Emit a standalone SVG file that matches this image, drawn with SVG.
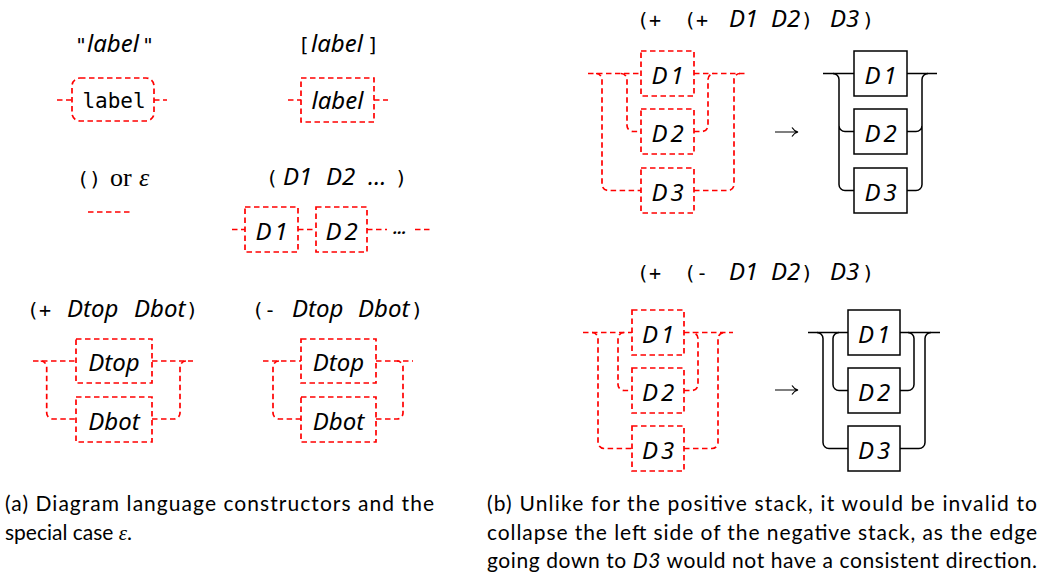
<svg xmlns="http://www.w3.org/2000/svg" width="1048" height="582" viewBox="0 0 1048 582">
<style>
.r{fill:none;stroke:#ff0000;stroke-width:1.7;stroke-dasharray:5.5 3.5}
.k{fill:none;stroke:#000;stroke-width:1.5}
.it{font-family:"Noto Sans",sans-serif;font-style:italic;font-size:24px;fill:#000}
.dn{letter-spacing:3px}
.mo{font-family:"DejaVu Sans Mono",monospace;font-size:20px;fill:#000}
.se{font-family:"Liberation Serif",serif;font-size:26px;fill:#000}
.sei{font-family:"Liberation Serif",serif;font-style:italic;font-size:26px;fill:#000}
.cap{font-family:Lato,sans-serif;font-size:21px;fill:#000}
.c{text-anchor:middle}
</style>
<rect width="1048" height="582" fill="#fff"/>

<g id="titles">
<text class="mo" y="52"><tspan x="75">"</tspan><tspan class="it" x="87">label</tspan><tspan x="142">"</tspan></text>
<text class="mo" y="52"><tspan x="298">[</tspan><tspan class="it" x="311">label</tspan><tspan x="367">]</tspan></text>
<text class="mo" y="186"><tspan x="77">()</tspan><tspan class="se" x="110">or</tspan><tspan class="sei" x="139">ε</tspan></text>
<text class="mo" y="185"><tspan x="266">(</tspan><tspan class="it" x="283">D1</tspan><tspan class="it" x="326">D2</tspan><tspan class="it" x="368">…</tspan><tspan x="395">)</tspan></text>
<text class="mo" y="317"><tspan x="27">(+</tspan><tspan class="it" x="67">Dtop</tspan><tspan class="it" x="134">Dbot</tspan><tspan x="186">)</tspan></text>
<text class="mo" y="317"><tspan x="252">(-</tspan><tspan class="it" x="292">Dtop</tspan><tspan class="it" x="358">Dbot</tspan><tspan x="411">)</tspan></text>
<text class="mo" y="27"><tspan x="637">(+</tspan><tspan x="684">(+</tspan><tspan class="it" x="729">D1</tspan><tspan class="it" x="771">D2</tspan><tspan x="801">)</tspan><tspan class="it" x="830">D3</tspan><tspan x="862">)</tspan></text>
<text class="mo" y="280"><tspan x="637">(+</tspan><tspan x="684">(-</tspan><tspan class="it" x="729">D1</tspan><tspan class="it" x="771">D2</tspan><tspan x="801">)</tspan><tspan class="it" x="830">D3</tspan><tspan x="862">)</tspan></text>
</g>

<g id="connectors">
<path class="r" d="M57 100H72M154 100H167"/>
<path class="r" d="M288 100H301M374 100H388"/>
<path class="r" d="M88 212H133"/>
<path class="r" d="M232 229.5H245M298 229.5H316M367 229.5H387M415 229.5H430"/>
<path class="r" d="M33 361H76M152 361H193"/>
<path class="r" d="M40.7 361A6 6 0 0 1 46.7 367V413A6 6 0 0 0 52.7 419H76"/>
<path class="r" d="M152 419H174A6 6 0 0 0 180 413V367A6 6 0 0 1 186 361"/>
<path class="r" d="M263 361H301M376 361H413"/>
<path class="r" d="M279 361A6 6 0 0 0 273 367V413A6 6 0 0 0 279 419H301"/>
<path class="r" d="M376 419H397A6 6 0 0 0 403 413V367A6 6 0 0 0 397 361"/>
<path class="r" d="M588 73.5H641M694 73.5H747"/>
<path class="r" d="M596 73.5A6 6 0 0 1 602 79.5V184.5A6 6 0 0 0 608 190.5H641"/>
<path class="r" d="M621 73.5A6 6 0 0 1 627 79.5V125.5A6 6 0 0 0 633 131.5H641"/>
<path class="r" d="M694 131.5H702A6 6 0 0 0 708 125.5V79.5A6 6 0 0 1 714 73.5"/>
<path class="r" d="M694 190.5H728A6 6 0 0 0 734 184.5V79.5A6 6 0 0 1 740 73.5"/>
<path class="k" d="M823 73.5H854M907 73.5H937"/>
<path class="k" d="M833 73.5A6 6 0 0 1 839 79.5V184.5A6 6 0 0 0 845 190.5H854M839 125.5A6 6 0 0 0 845 131.5H854"/>
<path class="k" d="M907 190.5H916A6 6 0 0 0 922 184.5V79.5A6 6 0 0 1 928 73.5M907 131.5H916A6 6 0 0 0 922 125.5"/>
<path class="r" d="M583 332.5H632M684 332.5H733"/>
<path class="r" d="M592 332.5A6 6 0 0 1 598 338.5V442.5A6 6 0 0 0 604 448.5H632"/>
<path class="r" d="M624 332.5A6 6 0 0 0 618 338.5V384.5A6 6 0 0 0 624 390.5H632"/>
<path class="r" d="M684 390.5H692A6 6 0 0 0 698 384.5V338.5A6 6 0 0 0 692 332.5"/>
<path class="r" d="M684 448.5H712A6 6 0 0 0 718 442.5V338.5A6 6 0 0 1 724 332.5"/>
<path class="k" d="M808 332.5H848M900 332.5H940"/>
<path class="k" d="M817 332.5A6 6 0 0 1 823 338.5V442.5A6 6 0 0 0 829 448.5H848"/>
<path class="k" d="M839 332.5A6 6 0 0 0 833 338.5V384.5A6 6 0 0 0 839 390.5H848"/>
<path class="k" d="M900 390.5H908A6 6 0 0 0 914 384.5V338.5A6 6 0 0 0 908 332.5"/>
<path class="k" d="M900 448.5H919A6 6 0 0 0 925 442.5V338.5A6 6 0 0 1 931 332.5"/>
</g>

<g id="n-label-str"><rect class="r" x="72" y="78" width="82" height="43" rx="8"/><text class="mo c" x="114" y="108" style="font-size:21px">label</text></g>
<g id="n-label-box"><rect class="r" x="301" y="78" width="73" height="44"/><text class="it c" x="337.5" y="109">label</text></g>
<g id="n-seq-d1"><rect class="r" x="245" y="207" width="53" height="45"/><text class="it c dn" x="273" y="239.5">D1</text></g>
<g id="n-seq-d2"><rect class="r" x="316" y="207" width="51" height="45"/><text class="it c dn" x="343" y="239.5">D2</text></g>
<text id="n-seq-dots" class="it c" x="400" y="234" style="font-size:16px;font-weight:bold">…</text>
<g id="n-p-top"><rect class="r" x="76" y="339" width="76" height="44"/><text class="it c" x="114" y="371">Dtop</text></g>
<g id="n-p-bot"><rect class="r" x="76" y="397" width="76" height="45"/><text class="it c" x="114" y="429.5">Dbot</text></g>
<g id="n-m-top"><rect class="r" x="301" y="339" width="75" height="44"/><text class="it c" x="338.5" y="371">Dtop</text></g>
<g id="n-m-bot"><rect class="r" x="301" y="397" width="75" height="45"/><text class="it c" x="338.5" y="429.5">Dbot</text></g>

<g id="n-r1-d1"><rect class="r" x="641" y="51" width="53" height="45"/><text class="it c dn" x="669" y="83.5">D1</text></g>
<g id="n-r1-d2"><rect class="r" x="641" y="109" width="53" height="45"/><text class="it c dn" x="669" y="141.5">D2</text></g>
<g id="n-r1-d3"><rect class="r" x="641" y="168" width="53" height="45"/><text class="it c dn" x="669" y="200.5">D3</text></g>
<path id="arrow1" class="k" style="stroke-width:1.2" d="M775 132H797M792 127.5Q794 131 798 132Q794 133 792 136.5"/>
<g id="n-k1-d1"><rect class="k" x="854" y="51" width="53" height="45"/><text class="it c dn" x="882" y="83.5">D1</text></g>
<g id="n-k1-d2"><rect class="k" x="854" y="109" width="53" height="45"/><text class="it c dn" x="882" y="141.5">D2</text></g>
<g id="n-k1-d3"><rect class="k" x="854" y="168" width="53" height="45"/><text class="it c dn" x="882" y="200.5">D3</text></g>

<g id="n-r2-d1"><rect class="r" x="632" y="310" width="52" height="45"/><text class="it c dn" x="659.5" y="342.5">D1</text></g>
<g id="n-r2-d2"><rect class="r" x="632" y="368" width="52" height="45"/><text class="it c dn" x="659.5" y="400.5">D2</text></g>
<g id="n-r2-d3"><rect class="r" x="632" y="426" width="52" height="45"/><text class="it c dn" x="659.5" y="458.5">D3</text></g>
<path id="arrow2" class="k" style="stroke-width:1.2" d="M775 390H797M792 385.5Q794 389 798 390Q794 391 792 394.5"/>
<g id="n-k2-d1"><rect class="k" x="848" y="310" width="52" height="45"/><text class="it c dn" x="875.5" y="342.5">D1</text></g>
<g id="n-k2-d2"><rect class="k" x="848" y="368" width="52" height="45"/><text class="it c dn" x="875.5" y="400.5">D2</text></g>
<g id="n-k2-d3"><rect class="k" x="848" y="426" width="52" height="45"/><text class="it c dn" x="875.5" y="458.5">D3</text></g>

<g id="captions">
<text class="cap" x="5" y="511" textLength="429" lengthAdjust="spacing">(a) Diagram language constructors and the</text>
<text class="cap" x="5" y="540">special case <tspan class="sei" style="font-size:21px">ε</tspan>.</text>
<text class="cap" x="487" y="511" textLength="550" lengthAdjust="spacing">(b) Unlike for the positive stack, it would be invalid to</text>
<text class="cap" x="487" y="539.5" textLength="550" lengthAdjust="spacing">collapse the left side of the negative stack, as the edge</text>
<text class="cap" x="487" y="568" textLength="550" lengthAdjust="spacing">going down to <tspan font-style="italic">D3</tspan> would not have a consistent direction.</text>
</g>
</svg>
